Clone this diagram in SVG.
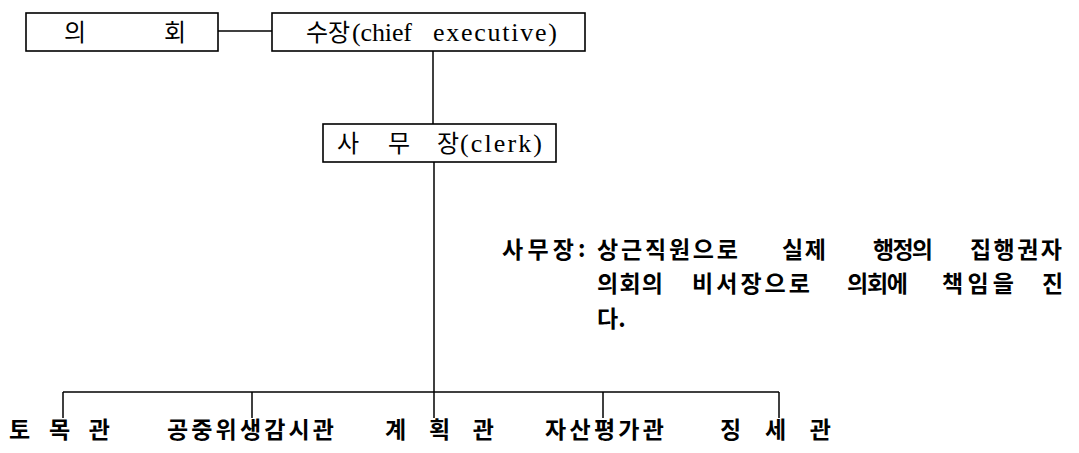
<svg xmlns="http://www.w3.org/2000/svg" width="1079" height="453" viewBox="0 0 1079 453">
<style>
.box{fill:#fff;stroke:#000;stroke-width:1.6}
.ln{fill:none;stroke:#000;stroke-width:1.5}
.t{font-family:"Liberation Serif","Noto Sans CJK KR",serif;font-size:26px;fill:#000}
.k{font-family:"Noto Sans CJK KR","Liberation Sans",sans-serif;font-size:23px;font-weight:600;fill:#000}
.kb{font-family:"Noto Sans CJK KR","Liberation Sans",sans-serif;font-size:24px;fill:#000}
</style>
<rect width="1079" height="453" fill="#fff"/>
<g id="connectors">
<line class="ln" x1="218" y1="31" x2="272" y2="31"/>
<line class="ln" x1="433" y1="51" x2="433" y2="124"/>
<line class="ln" x1="434" y1="162" x2="434" y2="418"/>
<line class="ln" x1="63" y1="392" x2="779" y2="392"/>
<line class="ln" x1="63" y1="392" x2="63" y2="418"/>
<line class="ln" x1="252" y1="392" x2="252" y2="418"/>
<line class="ln" x1="603" y1="392" x2="603" y2="418"/>
<line class="ln" x1="779" y1="392" x2="779" y2="418"/>
</g>
<g id="council">
<rect class="box" x="26" y="13" width="192" height="38"/>
<text class="kb" x="64" y="41">의</text>
<text class="kb" x="164" y="41">회</text>
</g>
<g id="chief">
<rect class="box" x="272" y="13" width="313" height="38"/>
<text class="kb" x="306" y="41">수장</text>
<text class="t" x="352" y="41" textLength="60" lengthAdjust="spacing">(chief</text>
<text class="t" x="433" y="41" textLength="124" lengthAdjust="spacing">executive)</text>
</g>
<g id="clerk">
<rect class="box" x="323" y="124" width="233" height="38"/>
<text class="kb" x="337" y="152">사</text>
<text class="kb" x="388" y="152">무</text>
<text class="kb" x="437" y="152">장</text>
<text class="t" x="460" y="152" textLength="82" lengthAdjust="spacing">(clerk)</text>
</g>
<g id="note">
<text class="k" x="502" y="258" textLength="72" lengthAdjust="spacing">사무장</text>
<text class="k" x="578" y="257">:</text>
<text class="k" x="597" y="258" textLength="141" lengthAdjust="spacing">상근직원으로</text>
<text class="k" x="782" y="258" textLength="44" lengthAdjust="spacing">실제</text>
<text class="k" x="873" y="258" textLength="60" lengthAdjust="spacing">행정의</text>
<text class="k" x="970" y="258" textLength="92" lengthAdjust="spacing">집행권자</text>
<text class="k" x="597" y="292" textLength="66" lengthAdjust="spacing">의회의</text>
<text class="k" x="692" y="292" textLength="118" lengthAdjust="spacing">비서장으로</text>
<text class="k" x="847" y="292" textLength="61" lengthAdjust="spacing">의회에</text>
<text class="k" x="942" y="292" textLength="72" lengthAdjust="spacing">책임을</text>
<text class="k" x="1042" y="292">진</text>
<text class="k" x="597" y="327">다.</text>
</g>
<g id="civil-engineer">
<text class="k" x="9" y="438" textLength="101" lengthAdjust="spacing">토 목 관</text>
</g>
<g id="health-inspector">
<text class="k" x="167" y="438" textLength="167" lengthAdjust="spacing">공중위생감시관</text>
</g>
<g id="planning">
<text class="k" x="385" y="438" textLength="109" lengthAdjust="spacing">계 획 관</text>
</g>
<g id="assessor">
<text class="k" x="545" y="438" textLength="119" lengthAdjust="spacing">자산평가관</text>
</g>
<g id="tax">
<text class="k" x="720" y="438" textLength="111" lengthAdjust="spacing">징 세 관</text>
</g>
</svg>
